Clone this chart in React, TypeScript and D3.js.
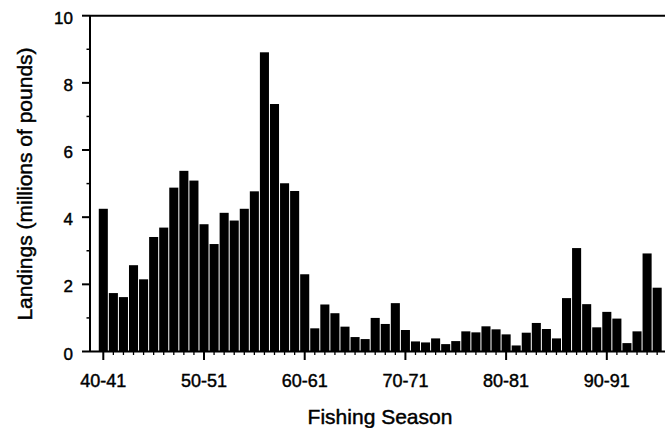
import React, { useEffect, useRef } from 'react';
import * as d3 from 'd3';

const seasons = [
  '40-41', '41-42', '42-43', '43-44', '44-45', '45-46', '46-47', '47-48', '48-49', '49-50',
  '50-51', '51-52', '52-53', '53-54', '54-55', '55-56', '56-57', '57-58', '58-59', '59-60',
  '60-61', '61-62', '62-63', '63-64', '64-65', '65-66', '66-67', '67-68', '68-69', '69-70',
  '70-71', '71-72', '72-73', '73-74', '74-75', '75-76', '76-77', '77-78', '78-79', '79-80',
  '80-81', '81-82', '82-83', '83-84', '84-85', '85-86', '86-87', '87-88', '88-89', '89-90',
  '90-91', '91-92', '92-93', '93-94', '94-95', '95-96',
];

// millions of pounds
const landings = [
  4.25, 1.74, 1.62, 2.57, 2.15, 3.41, 3.69, 4.88, 5.38, 5.09,
  3.79, 3.2, 4.13, 3.9, 4.25, 4.77, 8.91, 7.37, 5.01, 4.78,
  2.3, 0.69, 1.4, 1.14, 0.74, 0.43, 0.37, 1.0, 0.82, 1.44,
  0.64, 0.3, 0.27, 0.39, 0.22, 0.31, 0.6, 0.57, 0.75, 0.66,
  0.51, 0.18, 0.56, 0.85, 0.67, 0.39, 1.59, 3.08, 1.41, 0.72,
  1.18, 0.98, 0.25, 0.6, 2.92, 1.9,
];

const labelledSeasons = ['40-41', '50-51', '60-61', '70-71', '80-81', '90-91'];
const yMajorTicks = [0, 2, 4, 6, 8, 10];
const yMinorTicks = [1, 3, 5, 7, 9];

const W = 665;
const H = 428;

const App: React.FC = () => {
  const svgRef = useRef<SVGSVGElement>(null);

  useEffect(() => {
    if (!svgRef.current) return;
    const svg = d3.select(svgRef.current).html('');
    const font = '"Liberation Sans", Arial, Helvetica, sans-serif';

    const axisX = 90;
    const rightEdge = 665;

    const x = d3.scaleBand<string>()
      .domain(seasons)
      .range([98.27, 662.2])
      .paddingInner(0.1)
      .paddingOuter(0.05);

    const y = d3.scaleLinear().domain([0, 10]).range([351.5, 15.7]);

    // bars
    svg.append('g')
      .selectAll('rect')
      .data(seasons)
      .join('rect')
      .attr('x', (d) => x(d)!)
      .attr('y', (_d, i) => y(landings[i]))
      .attr('width', x.bandwidth())
      .attr('height', (_d, i) => y(0) - y(landings[i]))
      .attr('fill', '#000');

    const lines = svg.append('g').attr('stroke', '#000').attr('stroke-width', 2);

    // frame: left axis, top, baseline
    lines.append('line')
      .attr('x1', axisX).attr('x2', axisX)
      .attr('y1', y(10)).attr('y2', y(0));
    lines.append('line')
      .attr('x1', axisX).attr('x2', rightEdge)
      .attr('y1', y(10)).attr('y2', y(10));
    lines.append('line')
      .attr('x1', axisX).attr('x2', rightEdge)
      .attr('y1', y(0)).attr('y2', y(0));

    // y ticks
    lines.selectAll('.ymaj')
      .data(yMajorTicks)
      .join('line')
      .attr('x1', axisX - 8).attr('x2', axisX)
      .attr('y1', (d) => y(d)).attr('y2', (d) => y(d));
    lines.selectAll('.ymin')
      .data(yMinorTicks)
      .join('line')
      .attr('stroke-width', 1.5)
      .attr('x1', axisX - 3.5).attr('x2', axisX)
      .attr('y1', (d) => y(d)).attr('y2', (d) => y(d));

    // heavier text, like the scanned original
    const textStyle = (sel: d3.Selection<any, any, any, any>, size: number) =>
      sel
        .style('font-family', font)
        .style('font-size', `${size}px`)
        .attr('fill', '#000')
        .attr('stroke', '#000')
        .attr('stroke-width', 0.45);

    svg.append('g')
      .selectAll('text')
      .data(yMajorTicks)
      .join('text')
      .attr('x', 73)
      .attr('y', (d) => y(d) + 8)
      .attr('text-anchor', 'end')
      .call(textStyle, 17)
      .text((d) => d);

    // x ticks: short one under every season, long under labelled ones
    const cx = (s: string) => x(s)! + x.bandwidth() / 2;
    lines.selectAll('.xtick')
      .data(seasons)
      .join('line')
      .attr('stroke-width', (d) => (labelledSeasons.includes(d) ? 2 : 1.3))
      .attr('x1', cx).attr('x2', cx)
      .attr('y1', y(0))
      .attr('y2', (d) => (labelledSeasons.includes(d) ? y(0) + 8.5 : y(0) + 3.5));

    svg.append('g')
      .selectAll('text')
      .data(labelledSeasons)
      .join('text')
      .attr('x', cx)
      .attr('y', 386.5)
      .attr('text-anchor', 'middle')
      .call(textStyle, 18)
      .text((d) => d);

    // axis titles
    svg.append('text')
      .attr('x', 380)
      .attr('y', 424)
      .attr('text-anchor', 'middle')
      .call(textStyle, 21)
      .text('Fishing Season');

    svg.append('text')
      .attr('transform', 'translate(32,184) rotate(-90)')
      .attr('text-anchor', 'middle')
      .call(textStyle, 21)
      .text('Landings (millions of pounds)');
  }, []);

  return (
    <svg
      ref={svgRef}
      width={W}
      height={H}
      style={{ position: 'absolute', left: 0, top: 0, display: 'block', background: '#fff' }}
    />
  );
};

export default App;
